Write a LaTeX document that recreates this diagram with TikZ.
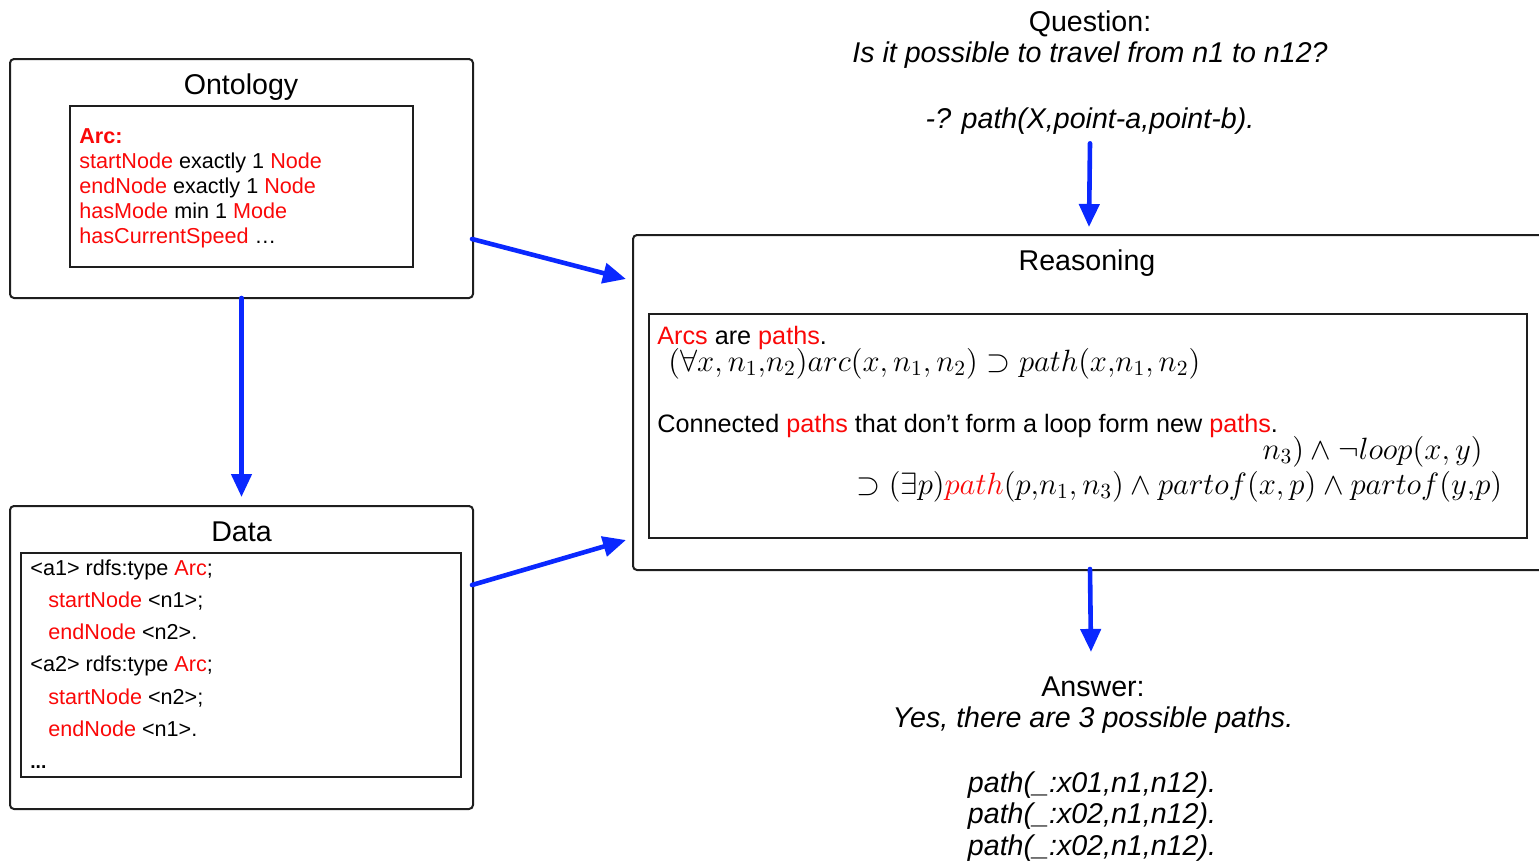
\RequirePackage{fix-cm}
\documentclass[tikz,border=0pt]{standalone}
\usepackage{fontspec}
\setmainfont{Liberation Sans}
\usetikzlibrary{arrows.meta,calc}

\definecolor{hred}{RGB}{250,8,8}
\definecolor{flow}{RGB}{10,40,255}
\definecolor{frame}{RGB}{30,30,30}

\newcommand{\hl}[1]{\textcolor{hred}{#1}}

\tikzset{
  outerbox/.style={draw=frame, line width=1pt, rounded corners=2pt, inner sep=0pt},
  innerbox/.style={draw=frame, line width=0.8pt, inner sep=0pt},
  title/.style={inner sep=0pt, font=\fontsize{14.3}{16}\selectfont},
  body/.style={inner sep=0pt, align=left},
  formula/.style={inner sep=0pt, font=\fontsize{15.4}{18}\selectfont},
  prose/.style={inner sep=0pt, anchor=base west, font=\fontsize{12.6}{15}\selectfont},
  flowarrow/.style={draw=flow, line width=2.3pt, line cap=round,
    -{Triangle[length=11.5pt,width=10pt]}},
}

\begin{document}
\begin{tikzpicture}[x=0.5pt, y=-0.5pt]
\useasboundingbox (0,0) rectangle (1539,864);
\clip (0,0) rectangle (1539,864);

% Ontology panel
\node[outerbox, minimum width=231.5pt, minimum height=119.5pt] (ont) at (241.5,178.5) {};
\node[innerbox, minimum width=171.5pt, minimum height=80.5pt] (ontin) at (241.5,186.5) {};
\node[title, anchor=base] (onttitle) at (241,94) {Ontology};
\node[body, anchor=north west, font=\fontsize{10.8}{12.5}\selectfont] (onttext) at (79,128)
  {\hl{\textbf{Arc:}}\\
   \hl{startNode} exactly 1 \hl{Node}\\
   \hl{endNode} exactly 1 \hl{Node}\\
   \hl{hasMode} min 1 \hl{Mode}\\
   \hl{hasCurrentSpeed} …};

% Data panel
\node[outerbox, minimum width=231.5pt, minimum height=151.5pt] (data) at (241.5,657.5) {};
\node[innerbox, minimum width=220pt, minimum height=112pt] (datain) at (241,665) {};
\node[title, anchor=base] (datatitle) at (241.5,541) {Data};
\node[body, anchor=north west, font=\fontsize{10.8}{16.15}\selectfont] (datatext) at (30,559)
  {<a1> rdfs:type \hl{Arc};\\
   \hspace*{9pt}\hl{startNode} <n1>;\\
   \hspace*{9pt}\hl{endNode} <n2>.\\
   <a2> rdfs:type \hl{Arc};\\
   \hspace*{9pt}\hl{startNode} <n2>;\\
   \hspace*{9pt}\hl{endNode} <n1>.\\
   {\fontsize{9.6}{11}\selectfont\textbf{...}}};

% Reasoning panel (runs past the right edge)
\node[outerbox, minimum width=483.5pt, minimum height=167.5pt] (reas) at (1116.5,402.5) {};
\node[innerbox, minimum width=439pt, minimum height=112pt] (reasin) at (1088,426) {};
\node[title, anchor=base] (reastitle) at (1087,270) {Reasoning};
\node[prose] (rule1) at (657,344) {\hl{Arcs} are \hl{paths}.};
\node[formula, anchor=base west] (form1) at (668,371)
  {$(\forall x, n_1{,}n_2)arc(x, n_1, n_2) \supset path(x{,}n_1, n_2)$};
\node[prose] (rule2) at (657,432)
  {Connected \hl{paths} that don’t form a loop form new \hl{paths}.};
\node[formula, anchor=base east] (form2) at (1483,459)
  {$n_3) \wedge \neg loop(x, y)$};
\node[formula, anchor=base west] (form3) at (856,494)
  {$\supset (\exists p){\color{hred}path}(p{,}n_1, n_3) \wedge partof(x, p) \wedge partof(y{,}p)$};

% Question
\node[title, anchor=base] (qtitle) at (1090,31) {Question:};
\node[title, anchor=base] (qtext) at (1090,62) {\itshape Is it possible to travel from n1 to n12?};
\node[title, anchor=base] (qcode) at (1090,128) {\itshape -? path(X,point-a,point-b).};

% Answer
\node[title, anchor=base] (atitle) at (1093,696) {Answer:};
\node[title, anchor=base] (atext) at (1093,727) {\itshape Yes, there are 3 possible paths.};
\node[title, anchor=base] (ans1) at (1092,792) {\itshape path(\_:x01,n1,n12).};
\node[title, anchor=base] (ans2) at (1092,823) {\itshape path(\_:x02,n1,n12).};
\node[title, anchor=base] (ans3) at (1092,855) {\itshape path(\_:x02,n1,n12).};

% Connectors
\draw[flowarrow] ($(ont.east)+(-2,60.5)$) -- ($(reas.west)+(-6,-123.5)$);
\draw[flowarrow] ($(data.east)+(-2,-72.5)$) -- ($(reas.west)+(-6,137.5)$);
\draw[flowarrow] ($(ont.south)+(0,-1)$) -- ($(data.north)+(0,-8)$);
\draw[flowarrow] ($(qcode.south)+(0,9)$) -- ($(qcode.south |- reas.north)+(-1,-7)$);
\draw[flowarrow] ($(atitle.north |- reas.south)+(-3,-2)$) -- ($(atitle.north)+(-2,-24)$);
\end{tikzpicture}
\end{document}
